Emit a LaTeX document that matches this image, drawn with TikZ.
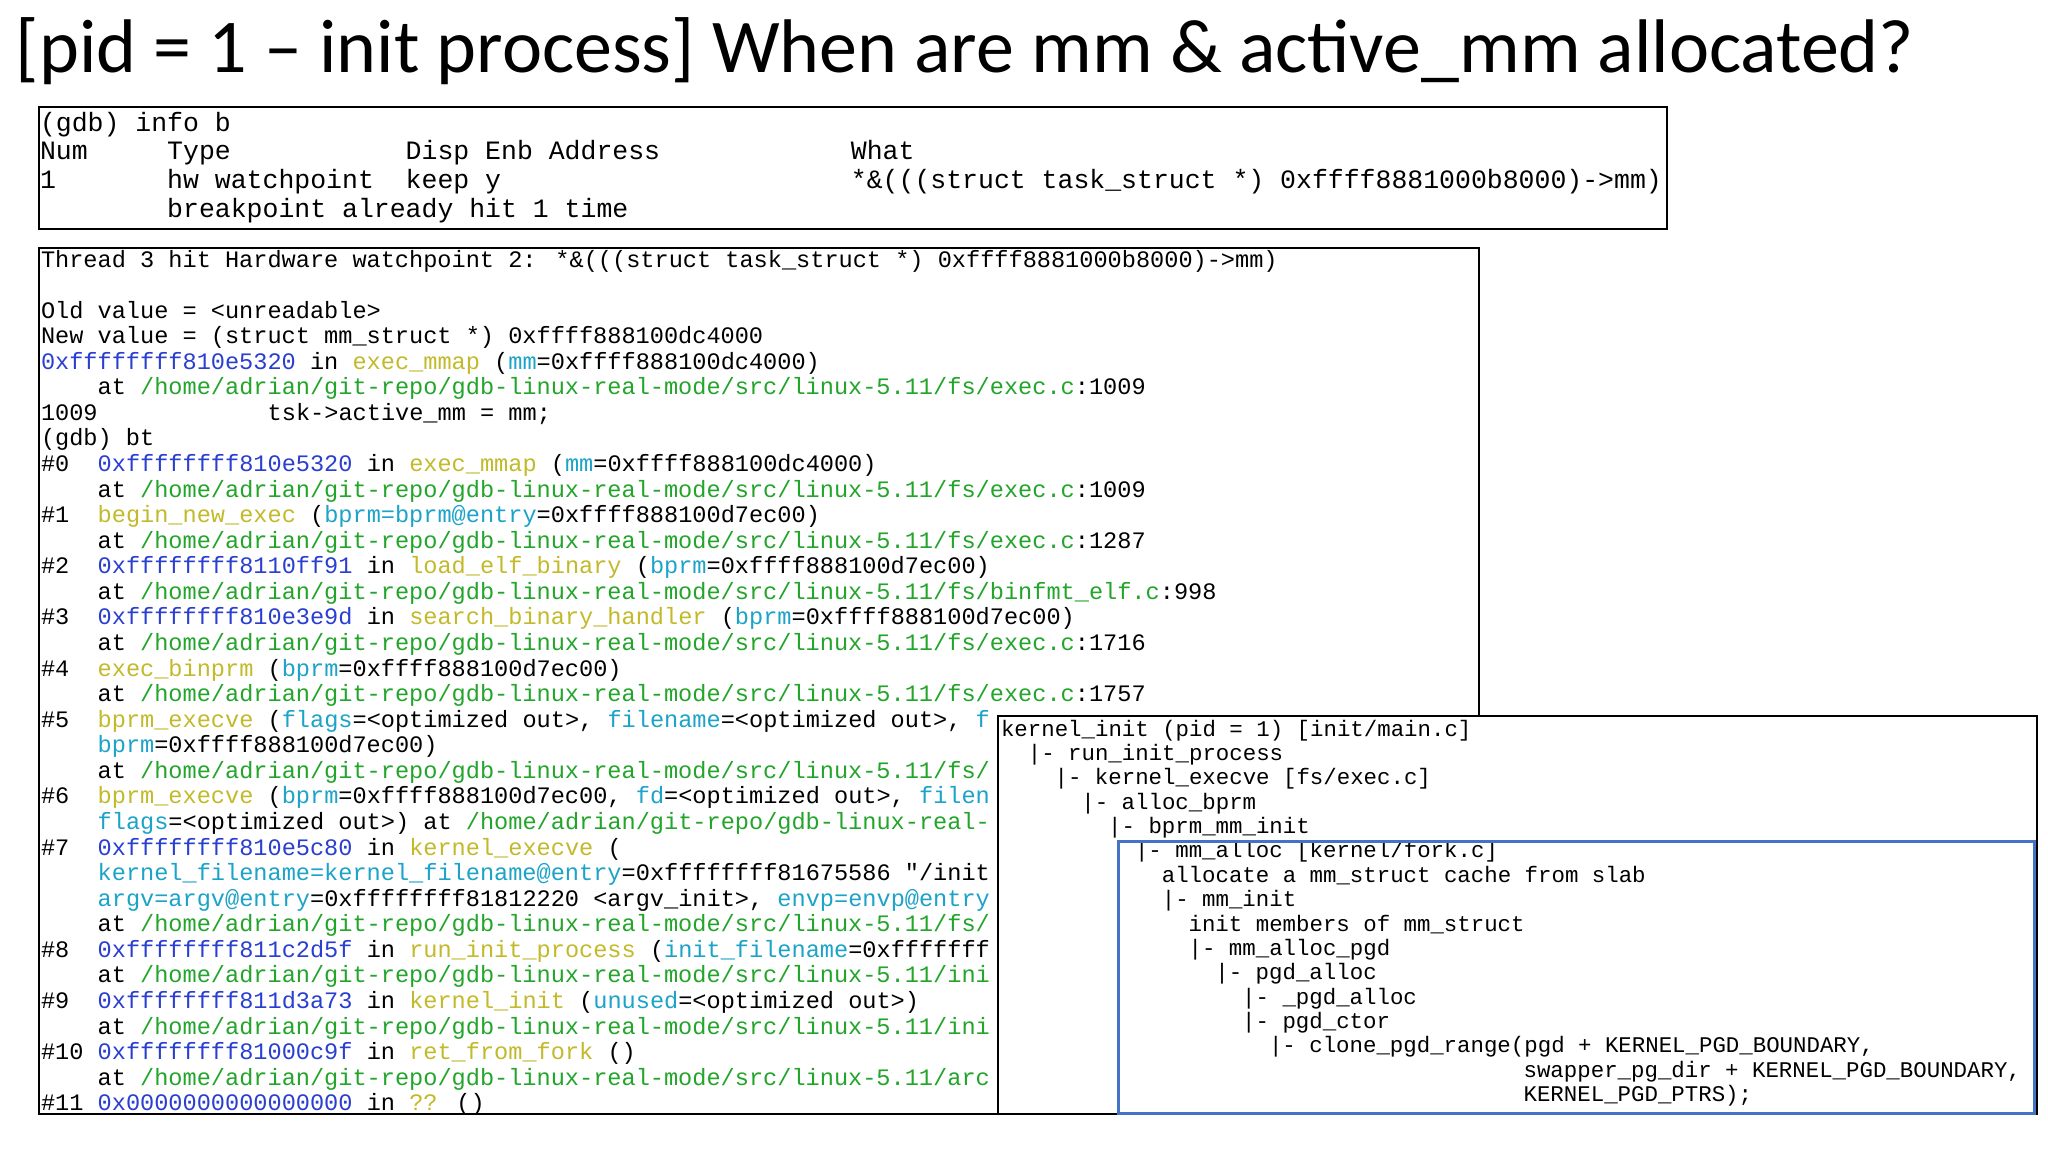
\documentclass[tikz,border=0pt]{standalone}
\usepackage{fontspec}
\setmainfont{Carlito}
\newfontfamily\mono{Liberation Mono}
\definecolor{ca}{HTML}{2A3FD0}
\definecolor{cf}{HTML}{C2BA2A}
\definecolor{cp}{HTML}{1CA3C8}
\definecolor{cg}{HTML}{22A52A}
\definecolor{bbox}{HTML}{4472C4}
\newcommand\xa[1]{\textcolor{ca}{#1}}
\newcommand\xf[1]{\textcolor{cf}{#1}}
\newcommand\xp[1]{\textcolor{cp}{#1}}
\newcommand\xg[1]{\textcolor{cg}{#1}}
\newcommand\pth{\xg{/home/adrian/git-repo/gdb-linux-real-mode/src/linux-5.11/}}
\tikzset{ln/.style={anchor=base west,inner sep=0pt,outer sep=0pt}}
\newcommand\la[3]{\node[ln,font=\mono\fontsize{26.5}{26.5}\selectfont] (a#1x#2) at ({40+#2*15.9},{-(131+#1*28.7)}) {#3};}
\newcommand\lb[3]{\node[ln,font=\mono\fontsize{23.6}{23.6}\selectfont] (b#1x#2) at ({41+#2*14.17},{-(267+#1*25.57)}) {#3};}
\newcommand\lc[3]{\node[ln,font=\mono\fontsize{22.4}{22.4}\selectfont] (c#1x#2) at ({1001+#2*13.4},{-(736+#1*24.38)}) {#3};}
\begin{document}
\begin{tikzpicture}[x=1pt,y=1pt]
\path[use as bounding box,fill=white] (0,0) rectangle (2048,-1152);
\node[ln,font=\fontsize{76}{76}\selectfont] (title) at (16,-72) {[pid = 1 – init process] When are mm \& active\_mm allocated?};
% box 1
\draw[line width=1.6pt] (39,-107) rectangle (1667,-229);
\la{0}{0}{(gdb)}\la{0}{6}{info b}
\la{1}{0}{Num}\la{1}{8}{Type}\la{1}{23}{Disp Enb Address}\la{1}{51}{What}
\la{2}{0}{1}\la{2}{8}{hw watchpoint}\la{2}{23}{keep y}\la{2}{51}{*\&(((struct task\_struct *) 0xffff8881000b8000)->mm)}
\la{3}{8}{breakpoint already hit 1 time}
% box 2
\begin{scope}
\clip (39,-248) rectangle (1479,-1114);
\lb{0}{0}{Thread 3 hit Hardware watchpoint 2: *\&(((struct task\_struct *) 0xffff8881000b8000)->mm)}
\lb{2}{0}{Old value = <unreadable>}
\lb{3}{0}{New value = (struct mm\_struct *) 0xffff888100dc4000}
\lb{4}{0}{\xa{0xffffffff810e5320} in \xf{exec\_mmap} (\xp{mm}=0xffff888100dc4000)}
\lb{5}{4}{at \pth\xg{fs/exec.c}:1009}
\lb{6}{0}{1009}\lb{6}{16}{tsk->active\_mm = mm;}
\lb{7}{0}{(gdb) bt}
\lb{8}{0}{\#0}\lb{8}{4}{\xa{0xffffffff810e5320} in \xf{exec\_mmap} (\xp{mm}=0xffff888100dc4000)}
\lb{9}{4}{at \pth\xg{fs/exec.c}:1009}
\lb{10}{0}{\#1}\lb{10}{4}{\xf{begin\_new\_exec} (\xp{bprm=bprm@entry}=0xffff888100d7ec00)}
\lb{11}{4}{at \pth\xg{fs/exec.c}:1287}
\lb{12}{0}{\#2}\lb{12}{4}{\xa{0xffffffff8110ff91} in \xf{load\_elf\_binary} (\xp{bprm}=0xffff888100d7ec00)}
\lb{13}{4}{at \pth\xg{fs/binfmt\_elf.c}:998}
\lb{14}{0}{\#3}\lb{14}{4}{\xa{0xffffffff810e3e9d} in \xf{search\_binary\_handler} (\xp{bprm}=0xffff888100d7ec00)}
\lb{15}{4}{at \pth\xg{fs/exec.c}:1716}
\lb{16}{0}{\#4}\lb{16}{4}{\xf{exec\_binprm} (\xp{bprm}=0xffff888100d7ec00)}
\lb{17}{4}{at \pth\xg{fs/exec.c}:1757}
\lb{18}{0}{\#5}\lb{18}{4}{\xf{bprm\_execve} (\xp{flags}=<optimized out>, \xp{filename}=<optimized out>, \xp{f}}
\lb{19}{4}{\xp{bprm}=0xffff888100d7ec00)}
\lb{20}{4}{at \pth\xg{fs/}}
\lb{21}{0}{\#6}\lb{21}{4}{\xf{bprm\_execve} (\xp{bprm}=0xffff888100d7ec00, \xp{fd}=<optimized out>, \xp{filen}}
\lb{22}{4}{\xp{flags}=<optimized out>) at \xg{/home/adrian/git-repo/gdb-linux-real-}}
\lb{23}{0}{\#7}\lb{23}{4}{\xa{0xffffffff810e5c80} in \xf{kernel\_execve} (}
\lb{24}{4}{\xp{kernel\_filename=kernel\_filename@entry}=0xffffffff81675586 "/init}
\lb{25}{4}{\xp{argv=argv@entry}=0xffffffff81812220 <argv\_init>, \xp{envp=envp@entry}}
\lb{26}{4}{at \pth\xg{fs/}}
\lb{27}{0}{\#8}\lb{27}{4}{\xa{0xffffffff811c2d5f} in \xf{run\_init\_process} (\xp{init\_filename}=0xfffffff}
\lb{28}{4}{at \pth\xg{ini}}
\lb{29}{0}{\#9}\lb{29}{4}{\xa{0xffffffff811d3a73} in \xf{kernel\_init} (\xp{unused}=<optimized out>)}
\lb{30}{4}{at \pth\xg{ini}}
\lb{31}{0}{\#10}\lb{31}{4}{\xa{0xffffffff81000c9f} in \xf{ret\_from\_fork} ()}
\lb{32}{4}{at \pth\xg{arc}}
\lb{33}{0}{\#11}\lb{33}{4}{\xa{0x0000000000000000} in \xf{??} ()}
\end{scope}
\draw[line width=1.6pt] (39,-248) rectangle (1479,-1114);
% box 3
\draw[line width=1.6pt,fill=white] (998,-716) rectangle (2037,-1114);
\lc{0}{0}{kernel\_init (pid = 1) [init/main.c]}
\lc{1}{2}{|- run\_init\_process}
\lc{2}{4}{|- kernel\_execve [fs/exec.c]}
\lc{3}{6}{|- alloc\_bprm}
\lc{4}{8}{|- bprm\_mm\_init}
\lc{5}{10}{|- mm\_alloc [kernel/fork.c]}
\lc{6}{12}{allocate a mm\_struct cache from slab}
\lc{7}{12}{|- mm\_init}
\lc{8}{14}{init members of mm\_struct}
\lc{9}{14}{|- mm\_alloc\_pgd}
\lc{10}{16}{|- pgd\_alloc}
\lc{11}{18}{|- \_pgd\_alloc}
\lc{12}{18}{|- pgd\_ctor}
\lc{13}{20}{|- clone\_pgd\_range(pgd + KERNEL\_PGD\_BOUNDARY,}
\lc{14}{39}{swapper\_pg\_dir + KERNEL\_PGD\_BOUNDARY,}
\lc{15}{39}{KERNEL\_PGD\_PTRS);}
\draw[bbox,line width=3pt] (1118,-841) rectangle (2034,-1113);
\end{tikzpicture}
\end{document}
